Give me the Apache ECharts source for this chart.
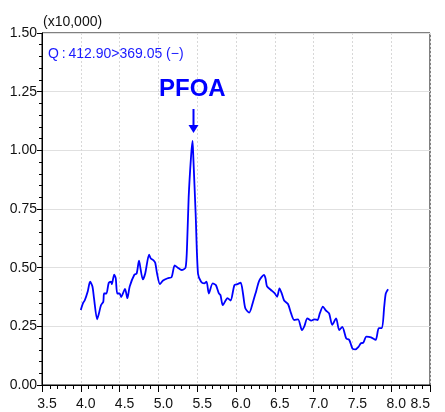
<!DOCTYPE html>
<html>
<head>
<meta charset="utf-8">
<script src="https://cdn.jsdelivr.net/npm/echarts@6/dist/echarts.min.js"></script>
<style>
  html, body { margin: 0; padding: 0; background: #fff; }
  #chart { width: 445px; height: 412px; }
</style>
</head>
<body>
<div id="chart"></div>
<script>
// retention time (min) and intensity (x10,000)
const retTime = [
  4.00, 4.03, 4.05, 4.09, 4.12, 4.15, 4.17, 4.21, 4.23, 4.26, 4.29, 4.30, 4.33, 4.36, 4.39, 4.40,
  4.43, 4.45, 4.47, 4.50, 4.52, 4.57, 4.60, 4.63, 4.69, 4.72, 4.75, 4.76, 4.80, 4.83, 4.88, 4.90,
  4.94, 4.96, 4.98, 5.02, 5.06, 5.12, 5.17, 5.21, 5.25, 5.30, 5.35, 5.37, 5.39, 5.42, 5.44, 5.45,
  5.48, 5.51, 5.55, 5.59, 5.62, 5.65, 5.70, 5.74, 5.78, 5.80, 5.83, 5.87, 5.89, 5.93, 5.98, 6.02,
  6.06, 6.09, 6.12, 6.17, 6.22, 6.26, 6.30, 6.36, 6.38, 6.40, 6.45, 6.50, 6.53, 6.56, 6.59, 6.62,
  6.67, 6.71, 6.75, 6.80, 6.85, 6.88, 6.92, 6.97, 7.01, 7.05, 7.08, 7.12, 7.16, 7.20, 7.24, 7.29,
  7.33, 7.37, 7.42, 7.46, 7.50, 7.54, 7.58, 7.61, 7.64, 7.68, 7.74, 7.80, 7.84, 7.88, 7.91, 7.93,
  7.96
];
const intensity = [
  0.32, 0.35, 0.36, 0.40, 0.44, 0.42, 0.37, 0.28, 0.30, 0.34, 0.355, 0.39, 0.39, 0.435, 0.44, 0.43,
  0.47, 0.455, 0.39, 0.39, 0.375, 0.41, 0.37, 0.42, 0.47, 0.475, 0.53, 0.515, 0.45, 0.475, 0.555, 0.54,
  0.53, 0.52, 0.48, 0.43, 0.445, 0.455, 0.46, 0.51, 0.50, 0.49, 0.50, 0.60, 0.80, 0.97, 1.04, 0.97,
  0.73, 0.475, 0.44, 0.433, 0.44, 0.39, 0.433, 0.426, 0.39, 0.383, 0.34, 0.362, 0.37, 0.36, 0.426, 0.43,
  0.436, 0.39, 0.327, 0.308, 0.355, 0.40, 0.445, 0.469, 0.455, 0.42, 0.405, 0.39, 0.376, 0.412, 0.39, 0.36,
  0.345, 0.305, 0.277, 0.28, 0.234, 0.25, 0.284, 0.274, 0.28, 0.277, 0.305, 0.334, 0.317, 0.305, 0.256, 0.284,
  0.234, 0.248, 0.199, 0.192, 0.156, 0.152, 0.163, 0.178, 0.18, 0.206, 0.203, 0.192, 0.242, 0.242, 0.334, 0.39,
  0.408
];

const scaleLabel = "(x10,000)";
const ionLabel = "Q\u2009:\u2009412.90>369.05 (−)";
const peakName = "PFOA";

const chart = echarts.init(document.getElementById("chart"));

const option = {
    animation: false,
    title: [
        {
            text: scaleLabel,
            left: 38,
            top: 10,
            textStyle: { fontSize: 14, fontWeight: "normal", color: "#111", fontFamily: "Liberation Sans" },
        },
        {
            text: ionLabel,
            left: 43,
            top: 42,
            textStyle: { fontSize: 14, fontWeight: "normal", color: "#1a1aff", fontFamily: "Liberation Sans" },
        },
    ],
    grid: {
        left: 42,
        right: 15,
        top: 33,
        bottom: 27,
        show: true,
        borderColor: "#000",
        borderWidth: 1,
    },
    xAxis: {
        type: "value",
        min: 3.5,
        max: 8.5,
        interval: 0.5,
        axisLine: { lineStyle: { color: "#000", width: 1 } },
        axisTick: { inside: false, length: 7, lineStyle: { color: "#000" } },
        minorTick: { show: true, splitNumber: 5, length: 4, lineStyle: { color: "#000" } },
        axisLabel: {
            color: "#111",
            fontSize: 14,
            fontFamily: "Liberation Sans",
            margin: 12,
            padding: [0, 0, 0, 10],
            alignMaxLabel: "right",
            formatter: (v) => v.toFixed(1),
        },
        splitLine: { show: true, lineStyle: { color: "#d8d8d8", type: [2, 2] } },
    },
    yAxis: {
        type: "value",
        min: 0,
        max: 1.5,
        interval: 0.25,
        axisLine: { show: true, lineStyle: { color: "#000", width: 1 } },
        axisTick: { show: true, length: 5, lineStyle: { color: "#000" } },
        minorTick: { show: true, splitNumber: 5, length: 3, lineStyle: { color: "#000" } },
        axisLabel: {
            color: "#111",
            fontSize: 14,
            fontFamily: "Liberation Sans",
            margin: 5,
            formatter: (v) => v.toFixed(2),
        },
        splitLine: { show: true, lineStyle: { color: "#e0e0e0", type: "solid" } },
    },
    series: [
        {
            type: "line",
            data: retTime.map((t, i) => [t, intensity[i]]),
            showSymbol: false,
            smooth: 0.25,
            lineStyle: { color: "#0000ff", width: 1.8 },
        },
    ],
    graphic: [
        {
            type: "text",
            left: 159,
            top: 77,
            z: 100,
            style: { text: peakName, fill: "#0000ff", font: "bold 24px Liberation Sans" },
        },
        {
            type: "line",
            z: 100,
            shape: { x1: 193.5, y1: 109, x2: 193.5, y2: 130 },
            style: { stroke: "#0000ff", lineWidth: 2 },
        },
        {
            type: "polygon",
            z: 100,
            shape: { points: [[188.5, 125], [198.5, 125], [193.5, 133]] },
            style: { fill: "#0000ff" },
        },
    ],
};

chart.setOption(option);
</script>
</body>
</html>
